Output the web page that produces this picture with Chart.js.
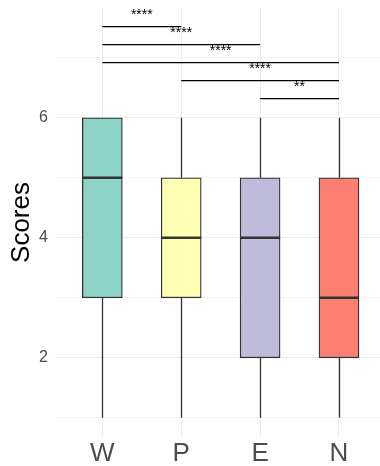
<!DOCTYPE html>
<html>
<head>
<meta charset="utf-8">
<script src="https://cdn.jsdelivr.net/npm/chart.js@4"></script>
<style>
  html, body { margin: 0; padding: 0; background: #fff; }
  #wrap { width: 380px; height: 466px; }
</style>
</head>
<body>
<div id="wrap"><canvas id="c" width="380" height="466"></canvas></div>
<script>
// Groups and their five-number summaries
const groups   = ['W', 'P', 'E', 'N'];
const mins     = [1, 1, 1, 1];
const q1s      = [3, 3, 2, 2];
const medians  = [5, 4, 4, 3];
const q3s      = [6, 5, 5, 5];
const maxs     = [6, 6, 6, 6];
const fills    = ['#8DD3C7', '#FFFFB3', '#BEBADA', '#FB8072'];

// Pairwise comparison brackets (group positions are 1-based)
const bracketFrom   = [1, 1, 1, 2, 3];
const bracketTo     = [2, 3, 4, 4, 4];
const bracketLevel  = [7.52, 7.22, 6.92, 6.62, 6.32];
const bracketLabels = ['****', '****', '****', '****', '**'];

// Y gridline values; even values are labelled
const yGridValues = [1, 2, 3, 4, 5, 6, 7];

const FONT = '"Liberation Sans", Arial, Helvetica, sans-serif';
const INK = '#333333';

const boxPlotExtras = {
  id: 'boxPlotExtras',
  beforeDatasetsDraw(chart) {
    const { ctx, scales: { x, y } } = chart;
    ctx.save();
    ctx.strokeStyle = INK;
    ctx.lineWidth = 1.3;
    groups.forEach((g, i) => {
      const px = Math.round(x.getPixelForValue(i + 1)) + 0.5;
      ctx.beginPath();
      ctx.moveTo(px, y.getPixelForValue(maxs[i]));
      ctx.lineTo(px, y.getPixelForValue(q3s[i]));
      ctx.moveTo(px, y.getPixelForValue(q1s[i]));
      ctx.lineTo(px, y.getPixelForValue(mins[i]));
      ctx.stroke();
    });
    ctx.restore();
  },
  afterDatasetsDraw(chart) {
    const { ctx, scales: { x, y } } = chart;
    const meta = chart.getDatasetMeta(0);
    ctx.save();
    // median lines across each box
    ctx.strokeStyle = INK;
    ctx.lineWidth = 2.4;
    meta.data.forEach((bar, i) => {
      const half = bar.width / 2;
      const py = y.getPixelForValue(medians[i]);
      ctx.beginPath();
      ctx.moveTo(bar.x - half, py);
      ctx.lineTo(bar.x + half, py);
      ctx.stroke();
    });
    // significance brackets with their labels
    ctx.strokeStyle = '#000';
    ctx.lineWidth = 1.4;
    ctx.fillStyle = '#000';
    ctx.font = '14px ' + FONT;
    ctx.textAlign = 'center';
    ctx.textBaseline = 'middle';
    bracketFrom.forEach((f, i) => {
      const x0 = x.getPixelForValue(f);
      const x1 = x.getPixelForValue(bracketTo[i]);
      const py = y.getPixelForValue(bracketLevel[i]);
      ctx.beginPath();
      ctx.moveTo(x0, py);
      ctx.lineTo(x1, py);
      ctx.stroke();
      ctx.fillText(bracketLabels[i], (x0 + x1) / 2, py - 11);
    });
    ctx.restore();
  }
};

new Chart(document.getElementById('c'), {
  type: 'bar',
  data: {
    datasets: [{
      data: groups.map((g, i) => ({ x: i + 1, y: [q1s[i], q3s[i]] })),
      backgroundColor: fills,
      borderColor: INK,
      borderWidth: 1.3,
      borderSkipped: false,
      barThickness: 40
    }]
  },
  options: {
    responsive: false,
    animation: false,
    events: [],
    layout: { padding: { top: 8, left: 0, right: 0, bottom: 0 } },
    plugins: { legend: { display: false }, tooltip: { enabled: false } },
    scales: {
      x: {
        type: 'linear',
        offset: false,
        min: 0.4,
        max: 4.52,
        afterBuildTicks(scale) { scale.ticks = groups.map((g, i) => ({ value: i + 1 })); },
        afterFit(scale) {
          scale.height = 29;
          scale.paddingLeft = 0; scale.paddingRight = 0;
        },
        border: { display: false },
        grid: { color: '#EBEBEB', lineWidth: 1, drawTicks: false, offset: false },
        ticks: {
          autoSkip: false,
          maxRotation: 0,
          padding: 1,
          color: '#4D4D4D',
          font: { family: FONT, size: 26 },
          callback: (v) => groups[v - 1] || ''
        }
      },
      y: {
        min: 0.68,
        max: 7.83,
        afterBuildTicks(scale) { scale.ticks = yGridValues.map(v => ({ value: v })); },
        afterFit(scale) {
          scale.width = 55;
          scale.paddingTop = 0; scale.paddingBottom = 0;
        },
        border: { display: false },
        grid: {
          drawTicks: false,
          color: (c) => (c.tick && c.tick.value % 2 === 0) ? '#EBEBEB' : '#F3F3F3',
          lineWidth: 1
        },
        ticks: {
          padding: 7,
          color: '#4D4D4D',
          font: { family: FONT, size: 16 },
          callback: (v) => (v % 2 === 0 ? String(v) : '')
        },
        title: {
          display: true,
          text: 'Scores',
          color: '#000',
          font: { family: FONT, size: 26 },
          padding: { top: 6, bottom: 0 }
        }
      }
    }
  },
  plugins: [boxPlotExtras]
});
</script>
</body>
</html>
